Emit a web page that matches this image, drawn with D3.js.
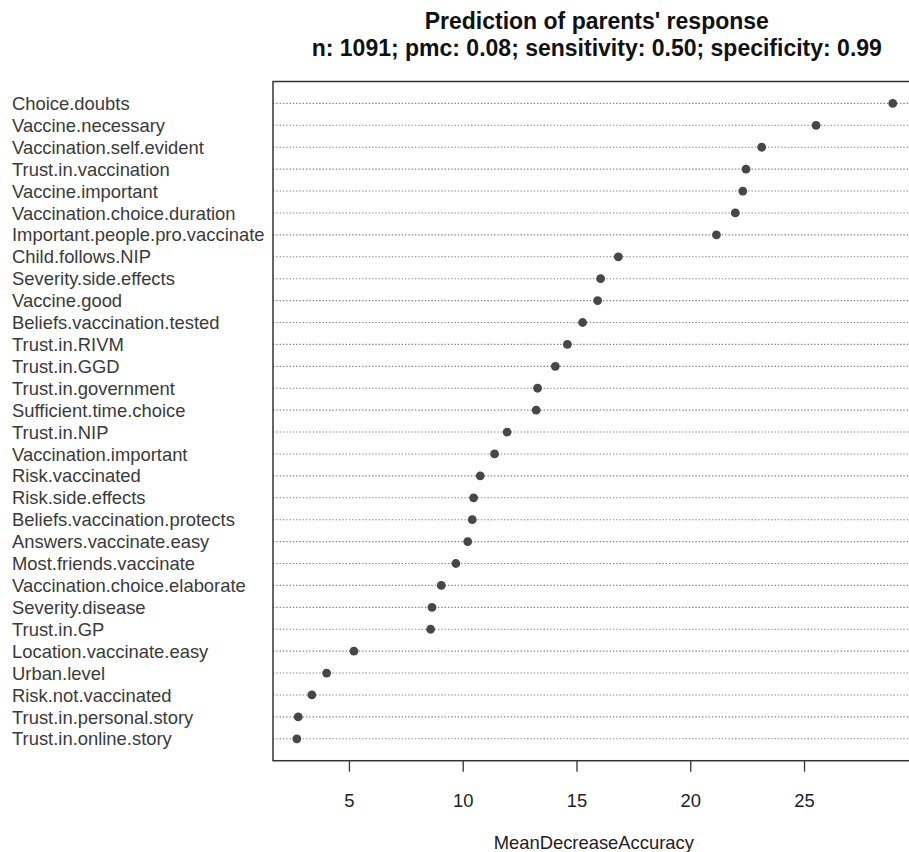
<!DOCTYPE html>
<html>
<head>
<meta charset="utf-8">
<script src="https://cdn.jsdelivr.net/npm/d3@7"></script>
<style>
  html, body { margin: 0; padding: 0; background: #fff; }
  svg { display: block; font-family: "Liberation Sans", Arial, sans-serif; }
</style>
</head>
<body>
<svg id="chart" width="909" height="852"></svg>
<script>
// Variables, top to bottom as drawn
const variables = [
  "Choice.doubts", "Vaccine.necessary", "Vaccination.self.evident", "Trust.in.vaccination",
  "Vaccine.important", "Vaccination.choice.duration", "Important.people.pro.vaccinate",
  "Child.follows.NIP", "Severity.side.effects", "Vaccine.good", "Beliefs.vaccination.tested",
  "Trust.in.RIVM", "Trust.in.GGD", "Trust.in.government", "Sufficient.time.choice",
  "Trust.in.NIP", "Vaccination.important", "Risk.vaccinated", "Risk.side.effects",
  "Beliefs.vaccination.protects", "Answers.vaccinate.easy", "Most.friends.vaccinate",
  "Vaccination.choice.elaborate", "Severity.disease", "Trust.in.GP",
  "Location.vaccinate.easy", "Urban.level", "Risk.not.vaccinated",
  "Trust.in.personal.story", "Trust.in.online.story"
];
const meanDecreaseAccuracy = [
  28.90, 25.53, 23.14, 22.45, 22.31, 21.98, 21.15,
  16.84, 16.06, 15.93, 15.27, 14.60, 14.07, 13.29, 13.23,
  11.95, 11.40, 10.77, 10.48, 10.42, 10.22, 9.70,
  9.06, 8.65, 8.59, 5.22, 4.02, 3.37, 2.77, 2.71
];
const xTicks = [5, 10, 15, 20, 25];
const titleLines = ["Prediction of parents' response",
                    "n: 1091; pmc: 0.08; sensitivity: 0.50; specificity: 0.99"];
const xLabel = "MeanDecreaseAccuracy";

const svg = d3.select("#chart");
const plot = { left: 273, right: 916.6, top: 81.5, bottom: 760.7 };

const n = variables.length;
const ext = d3.extent(meanDecreaseAccuracy);
const pad = (ext[1] - ext[0]) * 0.04;
const x = d3.scaleLinear().domain([ext[0] - pad, ext[1] + pad]).range([plot.left, plot.right]);
// row 1 at bottom, row n at top; axis 0..n+1
const y = d3.scaleLinear().domain([0, n + 1]).range([plot.bottom, plot.top]);

const rows = variables.map((v, i) => ({ name: v, value: meanDecreaseAccuracy[i], pos: n - i }));

// dotted guide lines
svg.append("g").selectAll("line").data(rows).join("line")
  .attr("x1", plot.left).attr("x2", plot.right)
  .attr("y1", d => y(d.pos)).attr("y2", d => y(d.pos))
  .attr("stroke", "#858585").attr("stroke-width", 1.1)
  .attr("stroke-dasharray", "1.4,1.9");

// points
svg.append("g").selectAll("circle").data(rows).join("circle")
  .attr("cx", d => x(d.value)).attr("cy", d => y(d.pos))
  .attr("r", 4.4).attr("fill", "#474747");

// labels
svg.append("g").selectAll("text").data(rows).join("text")
  .attr("x", 12).attr("y", d => y(d.pos)).attr("dy", "0.36em")
  .attr("font-size", 18.4).attr("fill", "#3a3a3a")
  .text(d => d.name);

// box
svg.append("rect")
  .attr("x", plot.left).attr("y", plot.top)
  .attr("width", plot.right - plot.left).attr("height", plot.bottom - plot.top)
  .attr("fill", "none").attr("stroke", "#333").attr("stroke-width", 1.5);

// x axis
const axis = svg.append("g").attr("transform", `translate(0,${plot.bottom})`)
  .call(d3.axisBottom(x).tickValues(xTicks).tickSize(11).tickPadding(22).tickFormat(d3.format("d")));
axis.select(".domain").remove();
axis.selectAll(".tick line").attr("stroke", "#333").attr("stroke-width", 1.3);
axis.selectAll(".tick text").attr("font-size", 18.4).attr("fill", "#222")
  .attr("font-family", "'Liberation Sans', Arial, sans-serif");

// axis title
svg.append("text").attr("x", (plot.left + plot.right) / 2 - 1).attr("y", 849)
  .attr("text-anchor", "middle").attr("font-size", 18.4).attr("fill", "#222")
  .text(xLabel);

// title
svg.append("g").selectAll("text").data(titleLines).join("text")
  .attr("x", (plot.left + plot.right) / 2 + 2)
  .attr("y", (d, i) => 29 + i * 27)
  .attr("text-anchor", "middle").attr("font-size", 23).attr("font-weight", "bold")
  .attr("fill", "#111")
  .text(d => d);
</script>
</body>
</html>
